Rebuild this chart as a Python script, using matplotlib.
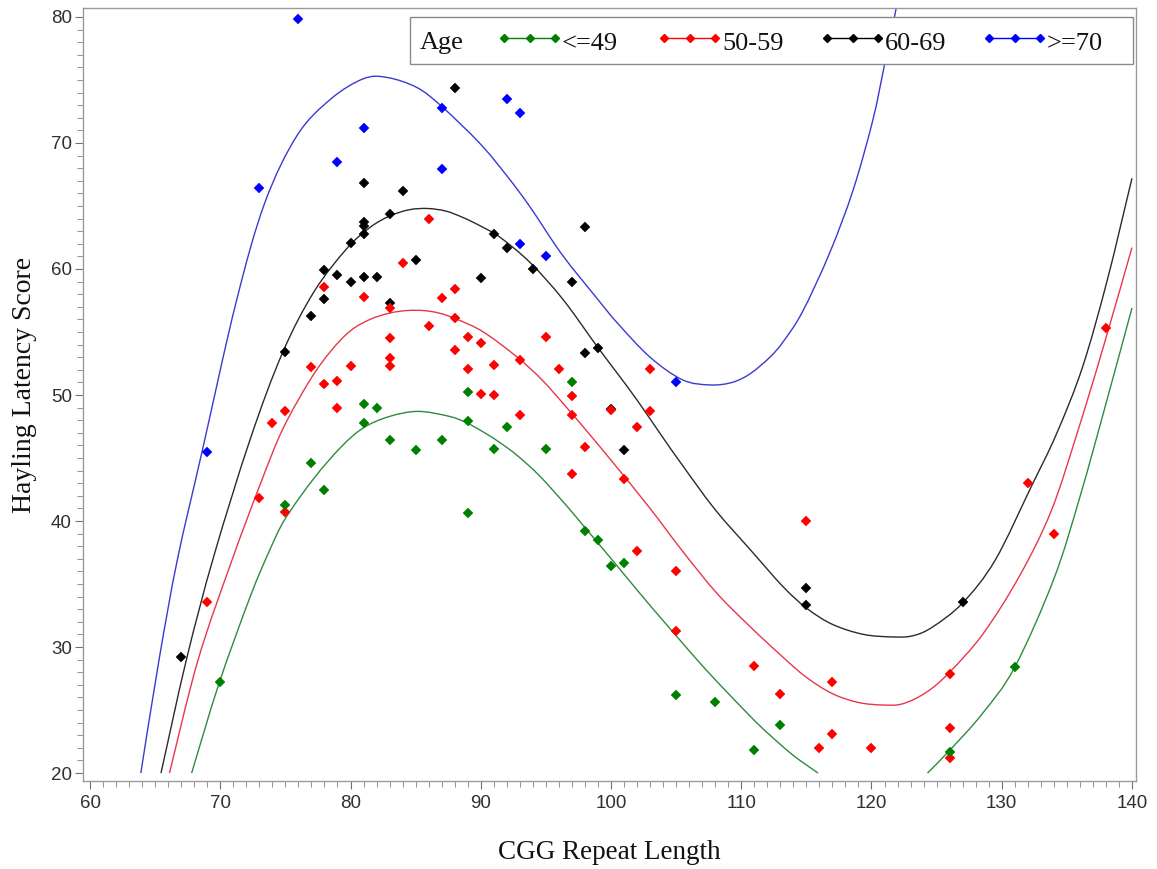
import numpy as np
import matplotlib
matplotlib.use("Agg")
import matplotlib.pyplot as plt
from matplotlib import font_manager as fm
from matplotlib.lines import Line2D
from matplotlib.patches import Rectangle, PathPatch
from matplotlib.path import Path
from matplotlib.ticker import MultipleLocator

# ---------------- data ----------------
group_labels = ["<=49", "50-59", "60-69", ">=70"]
group_colors = ["#008000", "#ff0000", "#000000", "#0000ff"]
line_colors = ["#2e8b3e", "#e8364a", "#2b2b2b", "#3a3ad0"]

green_x = [70, 75, 77, 78, 81, 81, 82, 83, 85, 87, 89, 89, 89, 91, 92, 95, 97, 98, 99, 100,
           101, 105, 108, 111, 113, 126, 131]
green_y = [27.2, 41.3, 44.6, 42.5, 49.3, 47.8, 49.0, 46.4, 45.6, 46.4, 50.2, 47.9, 40.6, 45.7,
           47.5, 45.7, 51.0, 39.2, 38.5, 36.4, 36.7, 26.2, 25.6, 21.8, 23.8, 21.7, 28.4]

red_x = [69, 73, 74, 75, 75, 77, 78, 78, 79, 79, 80, 81, 83, 83, 83, 83, 84, 86, 86, 87, 88, 88,
         88, 89, 89, 90, 90, 91, 91, 93, 93, 95, 96, 97, 97, 97, 98, 100, 101, 102, 102, 103, 103,
         105, 105, 111, 113, 115, 116, 117, 117, 120, 126, 126, 126, 132, 134, 138]
red_y = [33.6, 41.8, 47.8, 48.7, 40.7, 52.2, 58.6, 50.9, 51.1, 49.0, 52.3, 57.8, 56.9, 54.5, 52.9,
         52.3, 60.5, 64.0, 55.5, 57.7, 58.4, 56.1, 53.6, 54.6, 52.1, 54.1, 50.1, 52.4, 50.0, 52.8,
         48.4, 54.6, 52.1, 49.9, 48.4, 43.7, 45.9, 48.8, 43.3, 47.5, 37.6, 52.1, 48.7, 36.0, 31.3,
         28.5, 26.3, 40.0, 22.0, 27.2, 23.1, 22.0, 27.9, 23.6, 21.2, 43.0, 39.0, 55.3]

black_x = [67, 75, 77, 78, 78, 79, 80, 80, 81, 81, 81, 81, 81, 82, 83, 83, 84, 85, 88, 90, 91, 92,
           94, 97, 98, 98, 99, 100, 101, 115, 115, 127]
black_y = [29.2, 53.4, 56.3, 59.9, 57.6, 59.5, 62.1, 59.0, 66.8, 63.7, 63.4, 62.8, 59.4, 59.4,
           64.4, 57.3, 66.2, 60.7, 74.4, 59.3, 62.8, 61.7, 60.0, 59.0, 63.3, 53.3, 53.7, 48.9,
           45.6, 34.7, 33.3, 33.6]

blue_x = [69, 73, 76, 79, 81, 87, 87, 92, 93, 93, 95, 105]
blue_y = [45.5, 66.4, 79.8, 68.5, 71.2, 72.8, 67.9, 73.5, 72.4, 62.0, 61.0, 51.0]

# fitted curves
green_fit_left_x = [67.8, 69.9, 72.3, 73.8, 75.0, 77.2, 79.3, 81.0, 83.0, 85.2, 87.6, 88.9,
                    90.3, 91.5, 92.8, 94.5, 96.6, 97.9, 99.7, 100.9, 103.0, 105.0, 106.6,
                    108.1, 110.7, 112.0, 114.0, 115.9]
green_fit_left_y = [20.0, 27.1, 34.0, 37.7, 40.2, 43.4, 45.9, 47.4, 48.3, 48.7, 48.3, 47.8,
                    47.0, 46.2, 45.2, 43.6, 41.2, 39.6, 37.4, 35.9, 33.3, 30.9, 29.0,
                    27.3, 24.5, 23.2, 21.4, 20.0]
green_fit_right_x = [124.3, 126.0, 128.5, 131.0, 134.0, 136.0, 138.0, 140.0]
green_fit_right_y = [20.0, 21.8, 24.7, 28.4, 35.4, 41.9, 49.3, 56.9]

red_fit_x = [66.1, 68.3, 70.9, 73.1, 74.8, 76.9, 78.5, 80.0, 81.5, 83.0, 84.3, 85.6, 86.8,
             88.2, 90.2, 92.8, 94.7, 96.6, 98.5, 100.5, 103.0, 105.5, 108.1, 110.7, 113.2,
             115.0, 117.0, 119.0, 120.9, 122.4, 124.2, 126.0, 128.6, 131.4, 133.8, 135.8,
             137.8, 140.0]
red_fit_y = [20.0, 29.0, 36.9, 43.0, 47.3, 51.2, 53.5, 55.1, 56.0, 56.5, 56.7, 56.7, 56.5,
             56.0, 55.0, 53.0, 51.2, 49.0, 46.7, 44.2, 41.0, 37.6, 34.3, 31.6, 29.2,
             27.6, 26.3, 25.6, 25.4, 25.5, 26.4, 28.0, 31.1, 35.7, 40.8, 47.0,
             53.8, 61.7]

black_fit_x = [65.45, 67.4, 69.5, 72.3, 74.8, 77.2, 79.7, 81.5, 83.0, 84.5, 85.9, 87.3, 88.6,
               90.0, 91.5, 93.8, 96.3, 98.9, 100.5, 102.0, 103.8, 105.5, 108.0, 110.8, 113.2,
               115.0, 117.0, 119.4, 121.7, 123.2, 124.7, 127.0, 129.5, 132.3, 134.2, 136.2,
               138.1, 140.0]
black_fit_y = [20.0, 29.0, 37.2, 46.5, 53.4, 58.2, 61.6, 63.3, 64.2, 64.7, 64.8, 64.6, 64.1,
               63.4, 62.5, 60.5, 57.6, 53.9, 51.7, 49.6, 46.9, 44.4, 40.9, 37.6, 34.8,
               33.1, 31.8, 31.0, 30.8, 30.9, 31.6, 33.5, 36.9, 42.8, 46.9, 52.2,
               59.1, 67.2]

blue_fit_x = [63.9, 65.3, 66.7, 68.6, 71.2, 73.4, 75.9, 78.5, 81.0, 82.8, 85.1, 87.0,
              89.9, 92.0, 93.8, 96.2, 98.9, 100.5, 103.0, 105.5, 107.6, 109.3, 110.7, 112.2,
              113.2, 114.7, 116.8, 118.6, 120.1, 121.0, 122.0]
blue_fit_y = [20.0, 29.0, 36.9, 45.5, 57.3, 65.2, 70.6, 73.5, 75.1, 75.2, 74.4, 72.9,
              70.0, 67.4, 64.9, 61.2, 57.7, 55.7, 53.0, 51.2, 50.8, 51.0, 51.7, 53.0,
              54.2, 56.6, 61.3, 66.3, 71.8, 76.2, 81.2]

x_ticks = [60, 70, 80, 90, 100, 110, 120, 130, 140]
y_ticks = [20, 30, 40, 50, 60, 70, 80]
x_label = "CGG Repeat Length"
y_label = "Hayling Latency Score"
legend_title = "Age"

# ---------------- fonts ----------------
names = {f.name for f in fm.fontManager.ttflist}
tick_family = "Liberation Sans Narrow" if "Liberation Sans Narrow" in names else "Liberation Sans"
serif_family = "Liberation Serif" if "Liberation Serif" in names else "DejaVu Serif"

W, H = 1157, 869
fig = plt.figure(figsize=(W / 100, H / 100), dpi=100)
fig.patch.set_facecolor("white")

# axes frame in pixels: left 83, right 1136, top 8, bottom 781
L, R, T, B = 83, 1136, 8, 781
ax = fig.add_axes([L / W, 1 - B / H, (R - L) / W, (B - T) / H])
ax.set_xlim(59.46, 140.31)
ax.set_ylim(19.37, 80.71)


def smooth_curve(ax, xs, ys, color):
    """Draw a smooth line through the read curve points (Catmull-Rom as Bezier path)."""
    p = np.column_stack([xs, ys]).astype(float)
    n = len(p)
    verts = [p[0]]
    codes = [Path.MOVETO]
    for i in range(n - 1):
        p0 = p[i - 1] if i > 0 else p[i]
        p1 = p[i]
        p2 = p[i + 1]
        p3 = p[i + 2] if i + 2 < n else p[i + 1]
        c1 = p1 + (p2 - p0) / 6.0
        c2 = p2 - (p3 - p1) / 6.0
        verts += [c1, c2, p2]
        codes += [Path.CURVE4] * 3
    patch = PathPatch(Path(verts, codes), fill=False, edgecolor=color, lw=1.0, zorder=2)
    ax.add_patch(patch)


smooth_curve(ax, green_fit_left_x, green_fit_left_y, line_colors[0])
smooth_curve(ax, green_fit_right_x, green_fit_right_y, line_colors[0])
smooth_curve(ax, red_fit_x, red_fit_y, line_colors[1])
smooth_curve(ax, black_fit_x, black_fit_y, line_colors[2])
smooth_curve(ax, blue_fit_x, blue_fit_y, line_colors[3])

# points
ms = 5.6
for xs, ys, c in [(blue_x, blue_y, group_colors[3]), (black_x, black_y, group_colors[2]),
                  (red_x, red_y, group_colors[1]), (green_x, green_y, group_colors[0])]:
    ax.plot(xs, ys, linestyle="none", marker="D", ms=ms, mfc=c, mec=c, mew=0.3, zorder=3)

# ticks and frame
frame_col = "#9a9a9a"
for s in ax.spines.values():
    s.set_color(frame_col)
    s.set_linewidth(1.0)
ax.set_xticks(x_ticks)
ax.set_yticks(y_ticks)
ax.xaxis.set_minor_locator(MultipleLocator(1))
ax.yaxis.set_minor_locator(MultipleLocator(1))
ax.tick_params(axis="both", which="major", direction="out", length=6, width=0.8,
               color="#707070", labelcolor="#303030", labelsize=13.5)
ax.tick_params(axis="both", which="minor", direction="out", length=4, width=0.7,
               color="#909090")
ax.tick_params(axis="x", which="major", pad=4)
ax.tick_params(axis="y", which="major", pad=2)
for lab in ax.get_xticklabels() + ax.get_yticklabels():
    lab.set_fontfamily(tick_family)

ax.set_xlabel(x_label, fontfamily=serif_family, fontsize=19.5, color="#111111", labelpad=20)
ax.set_ylabel(y_label, fontfamily=serif_family, fontsize=20, color="#111111")
ax.yaxis.set_label_coords(-0.044, 0.512)

# ---------------- legend (drawn in figure pixels) ----------------
def fx(px):
    return px / W


def fy(py):
    return 1 - py / H


box = Rectangle((fx(410), fy(64)), fx(1133) - fx(410), fy(17) - fy(64),
                transform=fig.transFigure, facecolor="white", edgecolor="#8a8a8a",
                linewidth=1.0, zorder=5)
fig.add_artist(box)
txt_base = 49.5
fig.text(fx(420), fy(txt_base), legend_title, fontfamily=serif_family, fontsize=19,
         color="#111111", va="baseline", ha="left", zorder=6)
handle_starts = [504, 664, 827, 989]
for lab, c, hs in zip(group_labels, group_colors, handle_starts):
    hx = [fx(hs), fx(hs + 25.5), fx(hs + 51)]
    hy = [fy(37.5)] * 3
    ln = Line2D(hx, hy, transform=fig.transFigure, color=c, lw=1.0, marker="D", ms=4.2,
                mfc=c, mec=c, zorder=6)
    fig.add_artist(ln)
    fig.text(fx(hs + 58), fy(txt_base), lab, fontfamily=serif_family, fontsize=19,
             color="#111111", va="baseline", ha="left", zorder=6)

fig.savefig("out.png", dpi=100, facecolor="white")
